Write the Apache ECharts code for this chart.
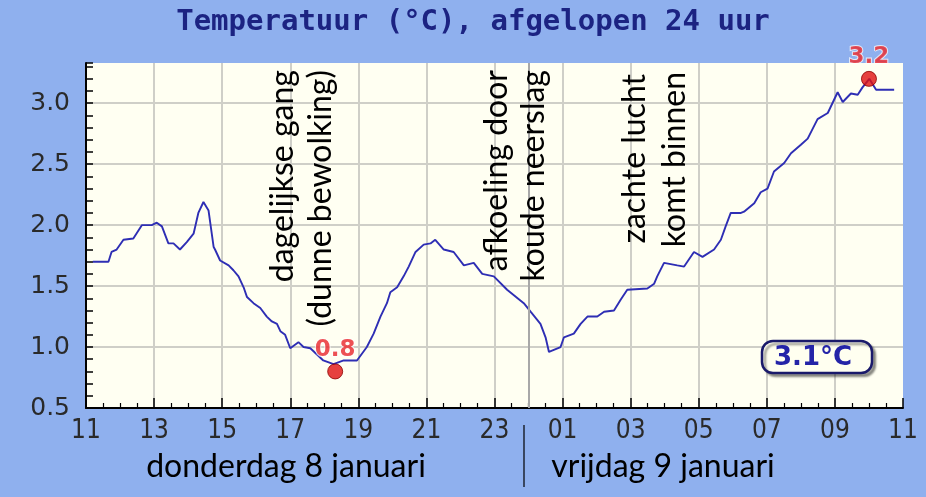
<!DOCTYPE html>
<html>
<head>
<meta charset="utf-8">
<script src="https://cdn.jsdelivr.net/npm/echarts@6/dist/echarts.min.js"></script>
<style>
html,body{margin:0;padding:0;background:#8fb0ee;}
#c{width:926px;height:497px;}
</style>
</head>
<body>
<div id="c"></div>
<script>
// hours since 11:00 on Thursday 8 January
const hours = [0.2,0.66,0.75,0.9,1.10,1.39,1.64,1.93,2.08,2.23,2.42,2.57,2.76,2.96,3.16,3.30,3.45,3.60,3.75,3.79,3.94,4.19,4.33,4.48,4.63,4.73,4.92,5.12,5.31,5.46,5.61,5.71,5.85,6.00,6.24,6.39,6.59,6.97,7.27,7.57,7.96,8.25,8.45,8.65,8.84,8.94,9.14,9.33,9.48,9.68,9.92,10.12,10.26,10.51,10.80,11.10,11.39,11.64,11.98,12.37,12.86,13.06,13.35,13.50,13.60,13.94,14.04,14.33,14.53,14.73,15.02,15.22,15.51,15.71,15.90,16.49,16.69,16.78,16.98,17.37,17.57,17.86,18.11,18.45,18.65,18.79,18.94,19.24,19.33,19.63,19.82,20.02,20.21,20.51,20.71,21.00,21.20,21.49,21.79,22.08,22.23,22.47,22.67,22.81,23.01,23.21,23.74];
const temps = [1.70,1.70,1.78,1.80,1.88,1.89,2.00,2.00,2.02,1.99,1.85,1.85,1.80,1.86,1.93,2.10,2.19,2.12,1.82,1.80,1.71,1.67,1.63,1.58,1.49,1.41,1.36,1.32,1.25,1.21,1.19,1.13,1.10,0.99,1.04,1.00,0.99,0.89,0.86,0.89,0.89,1.00,1.11,1.25,1.36,1.45,1.49,1.58,1.66,1.78,1.84,1.85,1.88,1.80,1.78,1.67,1.69,1.60,1.58,1.47,1.36,1.29,1.19,1.08,0.96,1.00,1.08,1.11,1.19,1.25,1.25,1.29,1.30,1.39,1.47,1.48,1.52,1.58,1.69,1.67,1.66,1.78,1.74,1.80,1.88,1.99,2.10,2.10,2.11,2.18,2.27,2.30,2.44,2.51,2.59,2.66,2.71,2.87,2.92,3.09,3.01,3.08,3.07,3.13,3.20,3.11,3.11];
const hourLabels = ['11','13','15','17','19','21','23','01','03','05','07','09','11'];
const extremeHours = [7.32, 23.0];
const extremeTemps = [0.8, 3.2];
const midnight = 13;
const chartTitle = 'Temperatuur (°C), afgelopen 24 uur';
const dayLabels = ['donderdag 8 januari', 'vrijdag 9 januari'];
const notes = [
  ['dagelijkse gang', '(dunne bewolking)'],
  ['afkoeling door', 'koude neerslag'],
  ['zachte lucht', 'komt binnen']
];
const currentTemp = temps[temps.length - 1];

const chart = echarts.init(document.getElementById('c'));
const annFont = 'Lato, "Open Sans", sans-serif';
function vtext(x, y, t) {
  return {type:'text', x:x, y:y, rotation:Math.PI/2, z:50,
    style:{text:t, fill:'#000', font:'32px ' + annFont, textAlign:'right', textVerticalAlign:'middle'}};
}
chart.setOption({
  backgroundColor:'#8fb0ee',
  animation:false,
  grid:{left:86,right:23,top:63,bottom:89,show:true,backgroundColor:'#fffff2',borderWidth:0},
  xAxis:{type:'value',min:0,max:24,interval:2,
    axisLine:{show:true,lineStyle:{color:'#000',width:2}},
    axisTick:{show:true,inside:true,length:10,lineStyle:{color:'#000',width:1.5}},
    minorTick:{show:true,splitNumber:4,length:5,lineStyle:{color:'#000',width:1.2}},
    splitLine:{show:true,showMaxLine:false,showMinLine:false,lineStyle:{color:'#cfcfc8',width:2}},
    axisLabel:{formatter:function(v){return hourLabels[Math.round(v/2)];},color:'#2a2a2a',fontSize:26,
      fontFamily:'"DejaVu Sans Condensed", "DejaVu Sans"',margin:10}
  },
  yAxis:{type:'value',min:0.5,max:3.33,interval:0.5,
    axisLine:{show:true,lineStyle:{color:'#000',width:2}},
    axisTick:{show:true,inside:true,length:7,lineStyle:{color:'#000',width:1.5}},
    minorTick:{show:true,splitNumber:5,length:7,lineStyle:{color:'#000',width:1.5}},
    splitLine:{show:true,showMaxLine:false,showMinLine:false,lineStyle:{color:'#cfcfc8',width:2}},
    axisLabel:{formatter:function(v){return v.toFixed(1);},showMaxLabel:false,color:'#2a2a2a',fontSize:25,
      fontFamily:'"DejaVu Sans"',margin:16}
  },
  series:[
    {type:'line',data:hours.map(function(h,i){return [h,temps[i]];}),symbol:'none',
      lineStyle:{color:'#2e2eb4',width:1.9},z:3,
      markLine:{silent:true,symbol:'none',label:{show:false},
        lineStyle:{color:'#a8a8a8',width:2,type:'solid'},data:[{xAxis:midnight}]}},
    {type:'scatter',data:extremeHours.map(function(h,i){return [h,extremeTemps[i]];}),
      symbolSize:15,itemStyle:{color:'#e01010',borderColor:'#8a0000',borderWidth:1},z:5,
      label:{show:true,position:'top',distance:2,formatter:function(p){return p.value[1].toFixed(1);},
        color:'#e8262a',fontWeight:'bold',fontSize:23,fontFamily:'"DejaVu Sans"',
        textBorderColor:'rgba(255,255,255,0.9)',textBorderWidth:2}}
  ],
  graphic:[
    {type:'text',x:473,y:22,style:{text:chartTitle,fill:'#1c2382',font:'bold 29px "DejaVu Sans Mono"',
      textAlign:'center',textVerticalAlign:'middle'}},
    {type:'text',x:286,y:467,style:{text:dayLabels[0],fill:'#000',font:'32px ' + annFont,textAlign:'center',textVerticalAlign:'middle'}},
    {type:'text',x:663,y:467,style:{text:dayLabels[1],fill:'#000',font:'32px ' + annFont,textAlign:'center',textVerticalAlign:'middle'}},
    {type:'line',shape:{x1:524,y1:425,x2:524,y2:487},style:{stroke:'#000',lineWidth:1.2}},
    vtext(283, 70, notes[0][0]), vtext(321, 70, notes[0][1]),
    vtext(497, 70, notes[1][0]), vtext(534, 70, notes[1][1]),
    vtext(635, 74, notes[2][0]), vtext(675, 72, notes[2][1]),
    {type:'rect',z:60,shape:{x:762,y:341,width:110,height:32,r:11},
      style:{fill:'#fffff0',stroke:'#1a1a6a',lineWidth:2.5,shadowColor:'rgba(0,0,0,0.35)',shadowOffsetX:3,shadowOffsetY:3,shadowBlur:2}},
    {type:'text',z:61,x:813,y:358,style:{text:currentTemp.toFixed(1)+'°C',fill:'#2424a8',font:'bold 26px "DejaVu Sans"',
      textAlign:'center',textVerticalAlign:'middle'}}
  ]
});
</script>
</body>
</html>
